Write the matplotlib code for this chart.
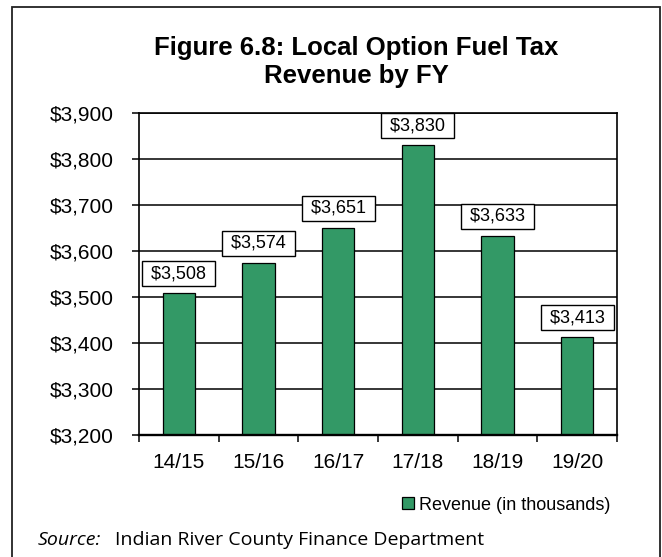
import matplotlib
matplotlib.use('Agg')
import matplotlib.pyplot as plt
import matplotlib.patches as patches
from matplotlib.ticker import FuncFormatter
import numpy as np

# --- Data ---
fiscal_years = ['14/15', '15/16', '16/17', '17/18', '18/19', '19/20']
revenue = [3508, 3574, 3651, 3830, 3633, 3413]
y_ticks = [3200, 3300, 3400, 3500, 3600, 3700, 3800, 3900]

BAR_COLOR = '#339966'

plt.rcParams['font.family'] = ['Liberation Sans', 'DejaVu Sans']

fig = plt.figure(figsize=(6.62, 5.57), dpi=100)
ax = fig.add_axes([139 / 662, 1 - 435 / 557, 478 / 662, 322 / 557])

x = np.arange(len(fiscal_years))
ax.bar(x, revenue, width=0.41, color=BAR_COLOR, edgecolor='black', linewidth=0.9, zorder=3)

ax.set_ylim(y_ticks[0], y_ticks[-1])
ax.set_xlim(-0.5, len(fiscal_years) - 0.5)
ax.set_yticks(y_ticks)
ax.yaxis.set_major_formatter(FuncFormatter(lambda v, p: f'${v:,.0f}'))
ax.grid(axis='y', color='black', linewidth=1.1, zorder=0)

# category boundaries get the ticks, labels sit at the centres
ax.set_xticks(np.arange(-0.5, len(fiscal_years)))
ax.set_xticklabels([])
ax.set_xticks(x, minor=True)
ax.set_xticklabels(fiscal_years, minor=True)
ax.tick_params(axis='x', which='major', direction='out', length=5, width=1.1)
ax.tick_params(axis='x', which='minor', length=0, pad=13, labelsize=15)
ax.tick_params(axis='y', direction='out', length=5, width=1.1, pad=13, labelsize=15)

for side in ['left', 'top', 'right']:
    ax.spines[side].set_linewidth(1.2)
ax.spines['bottom'].set_linewidth(1.7)
ax.spines['bottom'].set_zorder(4)

# value labels in white boxes
for xi, v in zip(x, revenue):
    ax.annotate(f' ${v:,} ', xy=(xi, v), xytext=(0, 11), textcoords='offset pixels',
                ha='center', va='bottom', fontsize=13, zorder=5,
                bbox=dict(boxstyle='square,pad=0.22', fc='white', ec='black', lw=1.0))

fig.text(356 / 662, 1 - 62 / 557, 'Figure 6.8: Local Option Fuel Tax\nRevenue by FY',
         ha='center', va='center', fontsize=18.5, fontweight='bold', linespacing=1.2)

handle = patches.Patch(facecolor=BAR_COLOR, edgecolor='black', linewidth=0.9,
                       label='Revenue (in thousands)')
fig.legend(handles=[handle], loc='center right', bbox_to_anchor=(610 / 662, 1 - 505 / 557),
           frameon=False, fontsize=13, handlelength=0.65, handleheight=0.65,
           handletextpad=0.25, borderpad=0, borderaxespad=0)

src_font = ['Open Sans', 'DejaVu Sans']
fig.text(38 / 662, 1 - 540 / 557, 'Source:', ha='left', va='center',
         fontsize=14, style='italic', family=src_font)
fig.text(115 / 662, 1 - 540 / 557, 'Indian River County Finance Department', ha='left',
         va='center', fontsize=14, family=src_font)

# outer frame round the whole figure
fig.patches.append(patches.Rectangle((12 / 662, -0.02), 648 / 662, 1.02 - 7 / 557,
                                     transform=fig.transFigure, fill=False,
                                     edgecolor='#222222', linewidth=1.3))

fig.savefig('out.png', dpi=100)
